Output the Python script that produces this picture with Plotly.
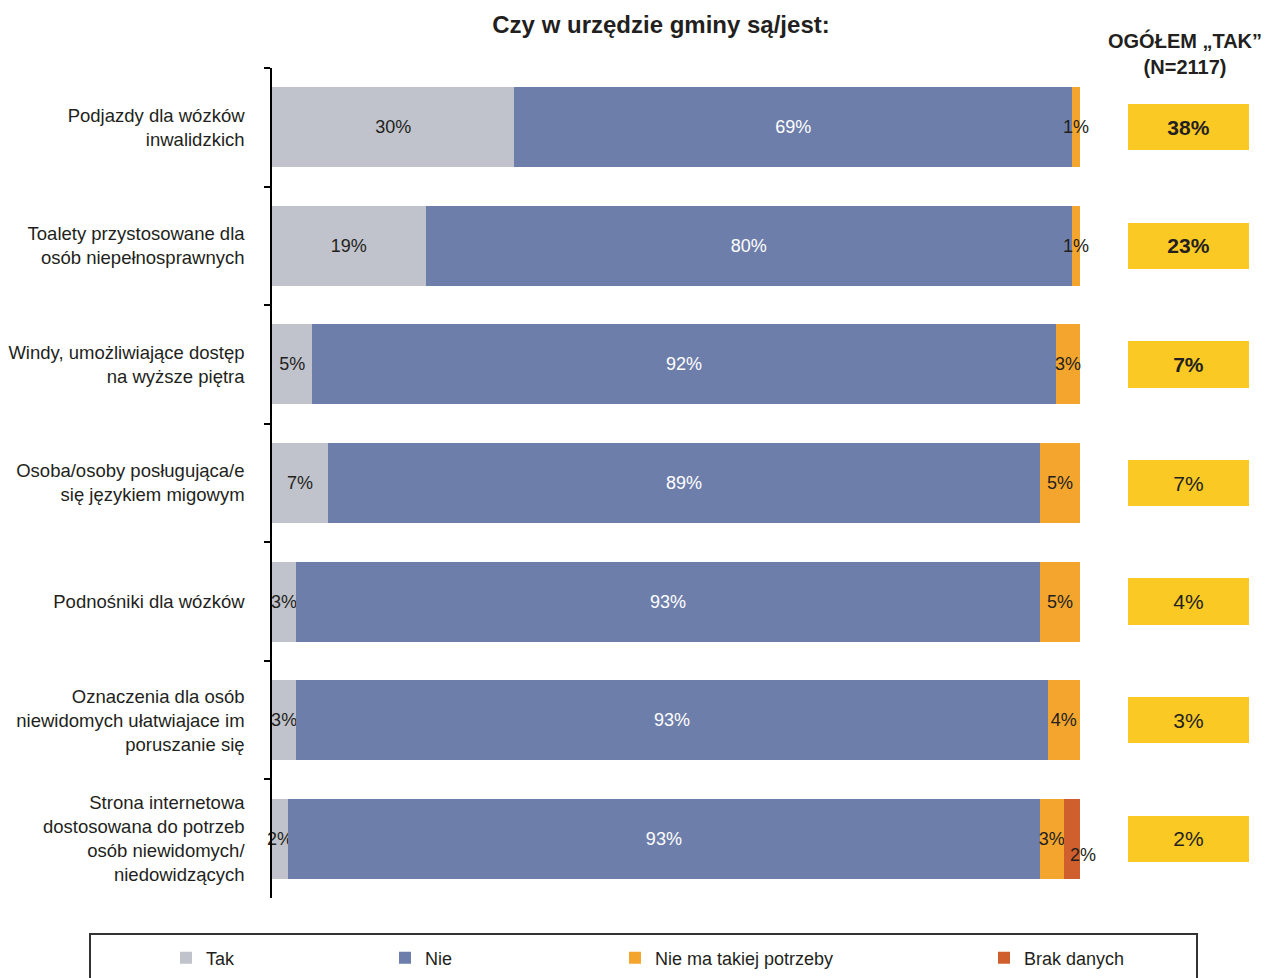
import plotly.graph_objects as go

# Dane
categories = [
    "Podjazdy dla wózków<br>inwalidzkich",
    "Toalety przystosowane dla<br>osób niepełnosprawnych",
    "Windy, umożliwiające dostęp<br>na wyższe piętra",
    "Osoba/osoby posługująca/e<br>się językiem migowym",
    "Podnośniki dla wózków",
    "Oznaczenia dla osób<br>niewidomych ułatwiajace im<br>poruszanie się",
    "Strona internetowa<br>dostosowana do potrzeb<br>osób niewidomych/<br>niedowidzących",
]
tak = [30, 19, 5, 7, 3, 3, 2]
nie = [69, 80, 92, 89, 93, 93, 93]
brak_potrzeby = [1, 1, 3, 5, 5, 4, 3]
brak_danych = [0, 0, 0, 0, 0, 0, 2]
ogolem_tak = [38, 23, 7, 7, 4, 3, 2]

series_names = ["Tak", "Nie", "Nie ma takiej potrzeby", "Brak danych"]
series_values = [tak, nie, brak_potrzeby, brak_danych]
colors = ["#c0c3cb", "#6e7eab", "#f4a52d", "#cf5f2d"]
text_colors = ["#231f20", "#ffffff", "#231f20", "#231f20"]

FONT = "Liberation Sans, Arial, sans-serif"
DARK = "#231f20"

# strona ma 8px marginesu body -> rysunek mniejszy o 8px, wspolrzedne ekranu - 8
OFF = 8
W, H = 1272 - OFF, 978 - OFF
L, R, T, B = 272 - OFF, 23, 68 - OFF, 80
plot_w = W - L - R
plot_h = H - T - B
bars_end = 1080
box_left = 1128


def px_x(x):
    return (x - OFF - L) / plot_w


def px_y(y):
    return (H - B - (y - OFF)) / plot_h


fig = go.Figure()

for i, (name, vals) in enumerate(zip(series_names, series_values)):
    # etykiete "Brak danych" rysujemy osobno (przesunieta w dol)
    labels = ["" if (v == 0 or i == 3) else f"{v}%" for v in vals]
    fig.add_trace(
        go.Bar(
            y=categories,
            x=vals,
            orientation="h",
            name=name,
            marker=dict(color=colors[i], line=dict(width=0)),
            width=0.675,
            text=labels,
            textposition="inside",
            insidetextanchor="middle",
            textangle=0,
            constraintext="none",
            cliponaxis=False,
            textfont=dict(family=FONT, size=18, color=text_colors[i]),
            legend="legend" if i == 0 else f"legend{i + 1}",
            hoverinfo="skip",
        )
    )

# etykiety "Brak danych"
for j, v in enumerate(brak_danych):
    if v:
        total = tak[j] + nie[j] + brak_potrzeby[j] + v
        center = 100 * (total - v / 2) / total
        fig.add_annotation(
            x=center, y=categories[j], xref="x", yref="y",
            text=f"{v}%", showarrow=False, yshift=-16, xshift=11,
            font=dict(family=FONT, size=18, color=DARK),
        )

# Kolumna OGÓŁEM "TAK"
fig.add_trace(
    go.Bar(
        y=categories,
        x=[1] * len(ogolem_tak),
        orientation="h",
        xaxis="x2",
        yaxis="y",
        marker=dict(color="#fbc924", line=dict(width=0)),
        width=0.39,
        text=[f"<b>{v}%</b>" if k < 3 else f"{v}%" for k, v in enumerate(ogolem_tak)],
        textposition="inside",
        insidetextanchor="middle",
        textangle=0,
        constraintext="none",
        textfont=dict(family=FONT, size=21, color=DARK),
        showlegend=False,
        hoverinfo="skip",
    )
)

fig.add_annotation(
    x=0.5, xref="x2 domain", y=px_y(54), yref="paper",
    text="<b>OGÓŁEM „TAK”<br>(N=2117)</b>", showarrow=False, xshift=-4,
    font=dict(family=FONT, size=20, color=DARK), yanchor="middle",
)

# ramka legendy
fig.add_shape(
    type="rect", xref="paper", yref="paper",
    x0=px_x(90), x1=px_x(1197), y0=px_y(934), y1=px_y(1010),
    line=dict(color="#333333", width=2), fillcolor="rgba(0,0,0,0)",
)

legend_x = [166, 385, 615, 984]
legends = {}
for i, lx in enumerate(legend_x):
    key = "legend" if i == 0 else f"legend{i + 1}"
    legends[key] = dict(
        x=px_x(lx), xanchor="left", y=px_y(958), yanchor="middle",
        orientation="h", bgcolor="rgba(0,0,0,0)",
        font=dict(family=FONT, size=18, color=DARK),
        itemclick=False, itemdoubleclick=False,
    )

fig.update_layout(
    width=W,
    height=H,
    barmode="stack",
    barnorm="percent",
    paper_bgcolor="white",
    plot_bgcolor="white",
    margin=dict(l=L, r=R, t=T, b=B, autoexpand=False),
    title=dict(
        text="<b>Czy w urzędzie gminy są/jest:</b>",
        x=(661 - OFF) / W, xanchor="center",
        y=1 - (25 - OFF) / H, yanchor="middle",
        font=dict(family=FONT, size=24, color=DARK),
    ),
    xaxis=dict(
        domain=[0, px_x(bars_end)], range=[0, 100], visible=False, fixedrange=True,
    ),
    xaxis2=dict(
        domain=[px_x(box_left), 1], range=[0, 100], visible=False, anchor="y",
    ),
    yaxis=dict(
        categoryorder="array", categoryarray=categories, autorange="reversed",
        showline=True, linecolor="#000000", linewidth=1.5,
        ticks="outside", ticklen=6, tickcolor="#000000", tickwidth=1.5,
        tickson="boundaries", showgrid=False, zeroline=False,
        ticklabelstandoff=22,
        tickfont=dict(family=FONT, size=18.5, color=DARK),
    ),
    showlegend=True,
    **legends,
)

fig.write_html("out.html")
